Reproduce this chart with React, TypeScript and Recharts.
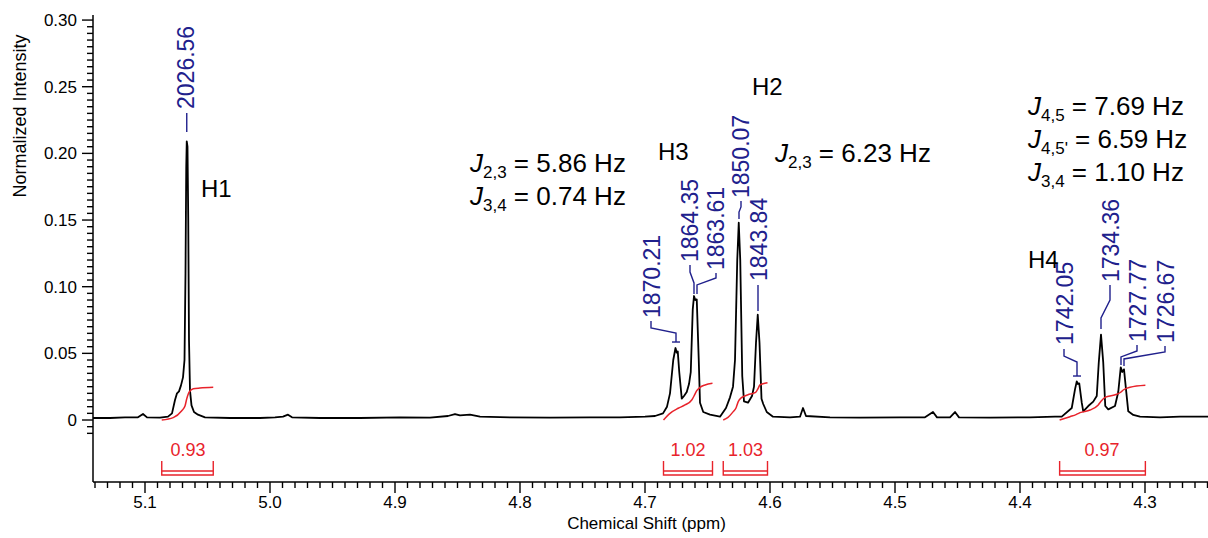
import * as React from 'react';
import { Line, LineChart, ReferenceDot, XAxis, YAxis } from 'recharts';

const FONT = '"Liberation Sans", Arial, Helvetica, sans-serif';
const BLUE = '#20208c';
const RED = '#e8232b';

// spectrum as [ppm, normalized intensity], from high to low ppm
const baselineLeft: [number, number][] = [
  [5.1416, 0.0015], [5.128, 0.0015], [5.116, 0.002], [5.1056, 0.002], [5.1016, 0.0045],
  [5.0984, 0.002], [5.088, 0.0018], [5.0816, 0.0025],
];

const peakH1: [number, number][] = [
  [5.0784, 0.005], [5.076, 0.015], [5.0744, 0.02], [5.0728, 0.0215], [5.0712, 0.026],
  [5.0696, 0.032], [5.0684, 0.045], [5.0676, 0.11], [5.067, 0.19], [5.0666, 0.209],
  [5.066, 0.205], [5.0654, 0.15], [5.0648, 0.06], [5.064, 0.022], [5.0628, 0.011],
  [5.0608, 0.006], [5.0576, 0.004], [5.052, 0.002],
];

const baselineMid1: [number, number][] = [
  [5.032, 0.0015], [5.008, 0.0015], [4.996, 0.002], [4.9896, 0.0025], [4.9856, 0.004],
  [4.9824, 0.002], [4.96, 0.0015], [4.928, 0.0015], [4.896, 0.002], [4.872, 0.0018],
  [4.8576, 0.003], [4.852, 0.0045], [4.848, 0.0035], [4.84, 0.004], [4.832, 0.0025],
  [4.808, 0.002], [4.776, 0.0018], [4.744, 0.002], [4.72, 0.002], [4.7, 0.0025],
  [4.692, 0.003],
];

const peakH3: [number, number][] = [
  [4.6856, 0.005], [4.6824, 0.01], [4.68, 0.02], [4.6774, 0.045], [4.6756, 0.054],
  [4.6746, 0.0505], [4.6738, 0.0515], [4.6726, 0.036], [4.6706, 0.016], [4.6688, 0.018],
  [4.6666, 0.021], [4.6648, 0.027], [4.6634, 0.036], [4.6618, 0.083], [4.6608, 0.093],
  [4.6598, 0.09], [4.6586, 0.0905], [4.657, 0.045], [4.656, 0.013], [4.6534, 0.006],
  [4.648, 0.004], [4.64, 0.0025],
];

const peakH2: [number, number][] = [
  [4.6352, 0.009], [4.632, 0.017], [4.6296, 0.025], [4.628, 0.045], [4.6262, 0.12],
  [4.625, 0.148], [4.6238, 0.12], [4.6222, 0.033], [4.6208, 0.014], [4.6176, 0.013],
  [4.6144, 0.018], [4.6128, 0.025], [4.6112, 0.058], [4.6098, 0.079], [4.6084, 0.058],
  [4.6068, 0.016], [4.6054, 0.012], [4.6026, 0.006], [4.5976, 0.0025],
];

const baselineMid2: [number, number][] = [
  [4.584, 0.002], [4.576, 0.0025], [4.5736, 0.009], [4.5712, 0.003], [4.552, 0.002],
  [4.528, 0.0018], [4.496, 0.002], [4.476, 0.002], [4.4696, 0.006], [4.4664, 0.002],
  [4.456, 0.002], [4.452, 0.006], [4.4488, 0.002], [4.424, 0.0018], [4.392, 0.002],
  [4.372, 0.0025],
];

const peakH4: [number, number][] = [
  [4.3666, 0.0025], [4.3586, 0.009], [4.356, 0.023], [4.3546, 0.029], [4.3536, 0.027],
  [4.3526, 0.0275], [4.3506, 0.013], [4.3494, 0.0065], [4.3454, 0.0105], [4.3414, 0.0138],
  [4.3386, 0.018], [4.337, 0.043], [4.3352, 0.064], [4.3334, 0.043], [4.3318, 0.0105],
  [4.3294, 0.008], [4.324, 0.0105], [4.3214, 0.021], [4.3194, 0.0395], [4.3182, 0.036],
  [4.3168, 0.038], [4.3152, 0.023], [4.3134, 0.0065], [4.3094, 0.0038], [4.304, 0.0025],
];

const baselineRight: [number, number][] = [
  [4.288, 0.002], [4.272, 0.0025], [4.26, 0.0025], [4.2496, 0.0025],
];

// integral curves
const integralH1: [number, number][] = [
  [5.0866, 0], [5.0774, 0.0018], [5.0706, 0.007], [5.068, 0.0105], [5.0666, 0.016],
  [5.0656, 0.019], [5.0646, 0.021], [5.0614, 0.0234], [5.056, 0.024], [5.0454, 0.0245],
];
const integralH3: [number, number][] = [
  [4.6852, 0], [4.68, 0.005], [4.6734, 0.0088], [4.668, 0.0113], [4.6626, 0.015],
  [4.6608, 0.018], [4.6586, 0.022], [4.656, 0.0245], [4.652, 0.0263], [4.646, 0.0275],
];
const integralH2: [number, number][] = [
  [4.6374, 0], [4.6336, 0.002], [4.6294, 0.0063], [4.6272, 0.009], [4.6254, 0.0138],
  [4.6232, 0.0165], [4.6214, 0.0175], [4.6176, 0.019], [4.6134, 0.02], [4.6112, 0.021],
  [4.6096, 0.0235], [4.608, 0.0263], [4.6056, 0.0272], [4.602, 0.028],
];
const integralH4: [number, number][] = [
  [4.3683, 0], [4.36, 0.0025], [4.3552, 0.004], [4.352, 0.0055], [4.344, 0.0075],
  [4.3374, 0.0113], [4.3352, 0.014], [4.332, 0.017], [4.3226, 0.0193], [4.3192, 0.021],
  [4.3174, 0.0225], [4.312, 0.0245], [4.2997, 0.026],
];

// integration brackets below the baseline
const integralValues = ['0.93', '1.02', '1.03', '0.97'];
const integralFrom = [5.0866, 4.6852, 4.6374, 4.3683];
const integralTo = [5.0454, 4.646, 4.602, 4.2997];
const integralLabelPpm = [5.0656, 4.6656, 4.6196, 4.3344];
const bracketTop = -0.0308;
const bracketInner = -0.0383;
const bracketBottom = -0.0413;
const integralLabelLevel = -0.0225;

// peak picking labels (Hz)
const peakHz = ['2026.56', '1870.21', '1864.35', '1863.61', '1850.07', '1843.84', '1742.05', '1734.36', '1727.77', '1726.67'];
const peakTextPpm = [5.0672, 4.6944, 4.664, 4.6432, 4.6232, 4.6088, 4.364, 4.3272, 4.3056, 4.2832];
const peakTextLevel = [0.2333, 0.0765, 0.1185, 0.1125, 0.1665, 0.1043, 0.0563, 0.1035, 0.0585, 0.0578];
const peakLeaders: [number, number][][] = [
  [[5.0666, 0.2303], [5.0666, 0.2161]],
  [[4.6952, 0.0743], [4.6952, 0.069], [4.6752, 0.0653], [4.6752, 0.0585]],
  [[4.664, 0.1163], [4.664, 0.111], [4.6608, 0.1028], [4.6608, 0.0945]],
  [[4.6432, 0.1103], [4.6432, 0.1065], [4.6584, 0.1013], [4.6584, 0.0945]],
  [[4.6232, 0.1643], [4.6232, 0.1598], [4.6248, 0.156], [4.6248, 0.1508]],
  [[4.6096, 0.1013], [4.6096, 0.0818]],
  [[4.3648, 0.0533], [4.3648, 0.048], [4.3544, 0.0435], [4.3544, 0.033]],
  [[4.328, 0.1013], [4.328, 0.09], [4.3352, 0.0765], [4.3352, 0.0683]],
  [[4.3064, 0.0563], [4.3064, 0.0518], [4.3192, 0.0473], [4.3192, 0.0413]],
  [[4.284, 0.0555], [4.284, 0.051], [4.3168, 0.0458], [4.3168, 0.0405]],
];
const leaderCaps: [number, number][][] = [
  [[4.6784, 0.0585], [4.672, 0.0585]],
  [[4.3576, 0.033], [4.3512, 0.033]],
];

// proton names
const protonNames = ['H1', 'H3', 'H2', 'H4'];
const protonPpm = [5.0552, 4.6896, 4.6144, 4.3936];
const protonLevel = [0.1673, 0.195, 0.2438, 0.114];

// coupling constants
const couplingSubs = ['2,3', '3,4', '2,3', '4,5', "4,5'", '3,4'];
const couplingValues = ['5.86', '0.74', '6.23', '7.69', '6.59', '1.10'];
const couplingPpm = [4.84, 4.84, 4.596, 4.3936, 4.3936, 4.3936];
const couplingLevel = [0.186, 0.1613, 0.1935, 0.2288, 0.204, 0.1793];

const xMajorLabels = ['5.1', '5.0', '4.9', '4.8', '4.7', '4.6', '4.5', '4.4', '4.3'];

const xTicks: number[] = [];
for (let k = 425; k <= 514; k++) xTicks.push(k / 100);
const yTicks: number[] = [];
for (let k = -2; k <= 60; k++) yTicks.push((k * 5) / 1000);

const toPoints = (pts: [number, number][]) => pts.map(([ppm, v]) => ({ ppm, v }));

const spectrum = toPoints([
  ...baselineLeft, ...peakH1, ...baselineMid1, ...peakH3, ...peakH2,
  ...baselineMid2, ...peakH4, ...baselineRight,
]);

function XTick(props: any) {
  const { x, y, payload } = props;
  const k = Math.round(payload.value * 100);
  const major = k % 10 === 0;
  const label = xMajorLabels.find((l) => Math.round(parseFloat(l) * 100) === k);
  return (
    <g>
      <line x1={x} x2={x} y1={y} y2={y + (major ? 11 : 6)} stroke="#000" strokeWidth={1.4} />
      {major && label && (
        <text x={x} y={y + 26} textAnchor="middle" fontSize={17} fontFamily={FONT} fill="#000">
          {label}
        </text>
      )}
    </g>
  );
}

function YTick(props: any) {
  const { x, y, payload } = props;
  const k = Math.round(payload.value * 1000);
  const major = k % 50 === 0;
  return (
    <g>
      <line x1={x - (major ? 11 : 6)} x2={x} y1={y} y2={y} stroke="#000" strokeWidth={1.4} />
      {major && (
        <text x={x - 16} y={y + 6} textAnchor="end" fontSize={17} fontFamily={FONT} fill="#000">
          {k === 0 ? '0' : (k / 1000).toFixed(2)}
        </text>
      )}
    </g>
  );
}

function XTitle(props: any) {
  const vb = props.viewBox;
  return (
    <text x={vb.x + vb.width / 2 - 4} y={vb.y + 47} textAnchor="middle" fontSize={17} fontFamily={FONT} fill="#000">
      Chemical Shift (ppm)
    </text>
  );
}

function YTitle(props: any) {
  const vb = props.viewBox;
  const cx = vb.x + 20;
  const cy = vb.y + 101;
  return (
    <text
      x={cx}
      y={cy}
      transform={`rotate(-90 ${cx} ${cy})`}
      textAnchor="middle"
      dominantBaseline="central"
      fontSize={18}
      fontFamily={FONT}
      fill="#000"
    >
      Normalized Intensity
    </text>
  );
}

export default function App() {
  return (
    <div style={{ width: 1208, height: 538 }}>
      <style>{'body{margin:0}'}</style>
      <LineChart width={1208} height={538} margin={{ top: 15, right: 0, bottom: 0, left: 0 }}>
        <XAxis
          type="number"
          dataKey="ppm"
          domain={[4.2496, 5.1416]}
          allowDataOverflow
          reversed
          ticks={xTicks}
          interval={0}
          tick={XTick}
          tickLine={false}
          tickSize={0}
          tickMargin={0}
          axisLine={{ stroke: '#000', strokeWidth: 1.5 }}
          height={56}
          label={XTitle}
        />
        <YAxis
          type="number"
          domain={[-0.0465, 0.3038]}
          allowDataOverflow
          ticks={yTicks}
          interval={0}
          tick={YTick}
          tickLine={false}
          tickSize={0}
          tickMargin={0}
          axisLine={{ stroke: '#000', strokeWidth: 1.5 }}
          width={93}
          label={YTitle}
        />

        <Line
          data={spectrum}
          dataKey="v"
          type="linear"
          stroke="#000"
          strokeWidth={1.8}
          strokeLinejoin="round"
          dot={false}
          isAnimationActive={false}
        />

        {[integralH1, integralH3, integralH2, integralH4].map((pts, i) => (
          <Line
            key={`int-${i}`}
            data={toPoints(pts)}
            dataKey="v"
            type="monotone"
            stroke={RED}
            strokeWidth={1.5}
            dot={false}
            isAnimationActive={false}
          />
        ))}

        {integralValues.map((_, i) => (
          <Line
            key={`br-${i}`}
            data={toPoints([
              [integralFrom[i], bracketTop],
              [integralFrom[i], bracketBottom],
              [integralTo[i], bracketBottom],
              [integralTo[i], bracketTop],
            ])}
            dataKey="v"
            type="linear"
            stroke={RED}
            strokeWidth={1.4}
            dot={false}
            isAnimationActive={false}
          />
        ))}
        {integralValues.map((_, i) => (
          <Line
            key={`bri-${i}`}
            data={toPoints([
              [integralFrom[i], bracketInner],
              [integralTo[i], bracketInner],
            ])}
            dataKey="v"
            type="linear"
            stroke={RED}
            strokeWidth={1.4}
            dot={false}
            isAnimationActive={false}
          />
        ))}

        {[...peakLeaders, ...leaderCaps].map((pts, i) => (
          <Line
            key={`ld-${i}`}
            data={toPoints(pts)}
            dataKey="v"
            type="linear"
            stroke={BLUE}
            strokeWidth={1.4}
            dot={false}
            isAnimationActive={false}
          />
        ))}

        {peakHz.map((hz, i) => (
          <ReferenceDot
            key={`hz-${i}`}
            x={peakTextPpm[i]}
            y={peakTextLevel[i]}
            r={0}
            ifOverflow="visible"
            shape={(p: any) => (
              <text
                x={p.cx}
                y={p.cy}
                transform={`rotate(-90 ${p.cx} ${p.cy})`}
                dominantBaseline="central"
                fontSize={23}
                fontFamily={FONT}
                fill={BLUE}
              >
                {hz}
              </text>
            )}
          />
        ))}

        {integralValues.map((val, i) => (
          <ReferenceDot
            key={`iv-${i}`}
            x={integralLabelPpm[i]}
            y={integralLabelLevel}
            r={0}
            ifOverflow="visible"
            shape={(p: any) => (
              <text x={p.cx} y={p.cy} textAnchor="middle" dominantBaseline="central" fontSize={18} fontFamily={FONT} fill={RED}>
                {val}
              </text>
            )}
          />
        ))}

        {protonNames.map((name, i) => (
          <ReferenceDot
            key={`h-${i}`}
            x={protonPpm[i]}
            y={protonLevel[i]}
            r={0}
            ifOverflow="visible"
            shape={(p: any) => (
              <text x={p.cx} y={p.cy} fontSize={24} fontFamily={FONT} fill="#000">
                {name}
              </text>
            )}
          />
        ))}

        {couplingValues.map((val, i) => (
          <ReferenceDot
            key={`j-${i}`}
            x={couplingPpm[i]}
            y={couplingLevel[i]}
            r={0}
            ifOverflow="visible"
            shape={(p: any) => (
              <text x={p.cx} y={p.cy} fontSize={26} fontFamily={FONT} fill="#000" style={{ whiteSpace: 'pre' }}>
                <tspan fontStyle="italic">J</tspan>
                <tspan fontSize={17} dy={6}>{couplingSubs[i]}</tspan>
                <tspan dy={-6}>{` = ${val} Hz`}</tspan>
              </text>
            )}
          />
        ))}
      </LineChart>
    </div>
  );
}
